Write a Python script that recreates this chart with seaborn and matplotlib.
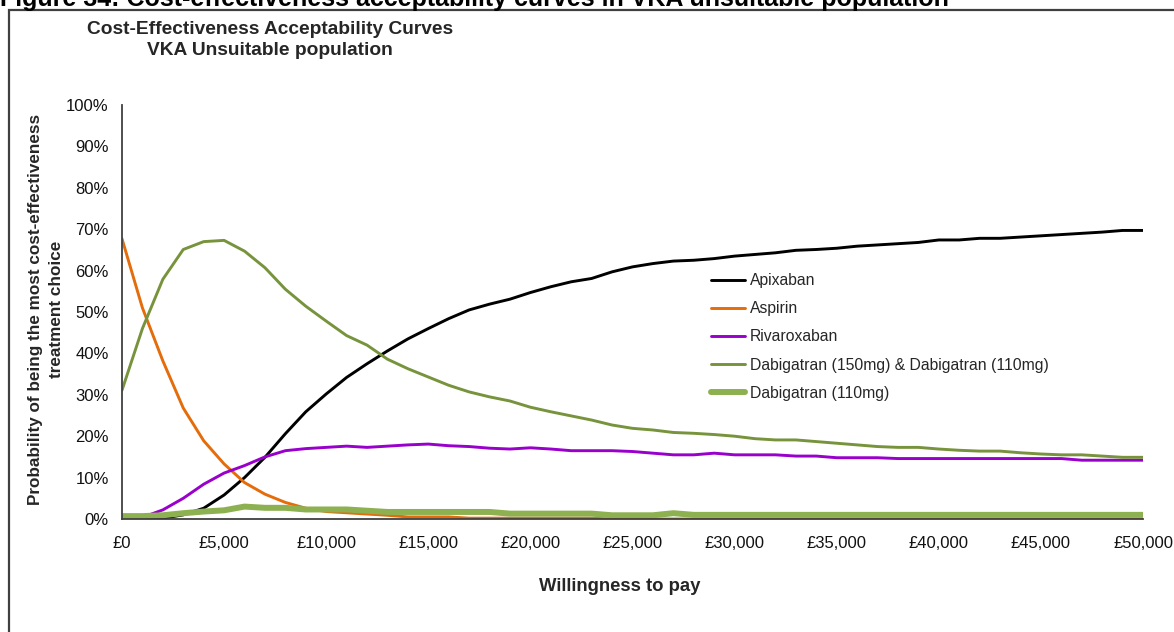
import matplotlib
matplotlib.use("Agg")
import matplotlib.pyplot as plt
from matplotlib.patches import Rectangle
from matplotlib.ticker import FuncFormatter, MultipleLocator
import pandas as pd
import seaborn as sns

# Willingness-to-pay thresholds (GBP)
wtp = list(range(0, 50001, 1000))

# Probability (%) of each strategy being the most cost-effective choice
apixaban = [0.0, 0.0, 0.2, 1.0, 2.6, 5.8, 10.0, 14.9, 20.6, 25.9,
            30.2, 34.2, 37.5, 40.6, 43.5, 46.0, 48.4, 50.5, 51.9, 53.1,
            54.7, 56.1, 57.3, 58.1, 59.7, 60.9, 61.7, 62.3, 62.5, 62.9,
            63.5, 63.9, 64.3, 64.9, 65.1, 65.4, 65.9, 66.2, 66.5, 66.8,
            67.4, 67.4, 67.8, 67.8, 68.1, 68.4, 68.7, 69.0, 69.3, 69.7,
            69.7]
aspirin = [67.7, 51.0, 38.2, 26.8, 18.9, 13.3, 8.8, 6.0, 4.0, 2.6,
           1.8, 1.5, 1.2, 0.9, 0.5, 0.5, 0.5, 0.2, 0.2, 0.2,
           0.2, 0.2, 0.2, 0.2, 0.0, 0.0, 0.0, 0.0, 0.0, 0.0,
           0.0, 0.0, 0.0, 0.0, 0.0, 0.0, 0.0, 0.0, 0.0, 0.0,
           0.0, 0.0, 0.0, 0.0, 0.0, 0.0, 0.0, 0.0, 0.0, 0.0,
           0.0]
rivaroxaban = [0.0, 0.4, 2.2, 5.0, 8.4, 11.1, 12.9, 15.0, 16.5, 17.0,
               17.3, 17.6, 17.3, 17.6, 17.9, 18.1, 17.7, 17.5, 17.1, 16.9,
               17.2, 16.9, 16.5, 16.5, 16.5, 16.3, 15.9, 15.5, 15.5, 15.9,
               15.5, 15.5, 15.5, 15.2, 15.2, 14.8, 14.8, 14.8, 14.6, 14.6,
               14.6, 14.6, 14.6, 14.6, 14.6, 14.6, 14.6, 14.2, 14.2, 14.2,
               14.2]
dabigatran_both = [31.1, 46.0, 57.9, 65.1, 67.0, 67.3, 64.7, 60.7, 55.5, 51.4,
                   47.8, 44.3, 42.0, 38.6, 36.3, 34.3, 32.3, 30.7, 29.5, 28.5,
                   27.0, 25.9, 24.9, 23.9, 22.7, 21.9, 21.5, 20.9, 20.7, 20.4,
                   20.0, 19.4, 19.1, 19.1, 18.7, 18.3, 17.9, 17.5, 17.3, 17.3,
                   16.9, 16.6, 16.4, 16.4, 16.0, 15.7, 15.5, 15.5, 15.2, 14.9,
                   14.9]
dabigatran_110 = [0.7, 0.7, 0.9, 1.4, 1.8, 2.1, 3.0, 2.7, 2.7, 2.3,
                  2.3, 2.3, 2.0, 1.7, 1.7, 1.7, 1.7, 1.7, 1.7, 1.3,
                  1.3, 1.3, 1.3, 1.3, 0.9, 0.9, 0.9, 1.4, 1.0, 1.0,
                  1.0, 1.0, 1.0, 1.0, 1.0, 1.0, 1.0, 1.0, 1.0, 1.0,
                  1.0, 1.0, 1.0, 1.0, 1.0, 1.0, 1.0, 1.0, 1.0, 1.0,
                  1.0]

labels = ["Apixaban", "Aspirin", "Rivaroxaban",
          "Dabigatran (150mg) & Dabigatran (110mg)", "Dabigatran (110mg)"]
series = [apixaban, aspirin, rivaroxaban, dabigatran_both, dabigatran_110]
colors = ["#000000", "#E46C0A", "#9900CC", "#77933C", "#8DB050"]
widths = [2.1, 2.1, 2.1, 2.1, 4.3]

sns.set_style("white")
plt.rcParams["font.family"] = ["Liberation Sans", "DejaVu Sans"]

fig = plt.figure(figsize=(11.74, 6.32), dpi=100)
W, H = 1174, 632

# Frame around the chart area
fig.patches.append(Rectangle((9 / W, -0.1), 1.2, (H - 10) / H + 0.1,
                             transform=fig.transFigure, fill=False,
                             edgecolor="#404040", linewidth=1.6))

# Caption above the chart frame
fig.text(0.0, 1 - 6 / H,
         "Figure 34: Cost-effectiveness acceptability curves in VKA unsuitable population",
         ha="left", va="baseline", fontsize=18, fontweight="bold", color="black")

# Chart title
fig.text(270 / W, 1 - 21.5 / H,
         "Cost-Effectiveness Acceptability Curves\nVKA Unsuitable population",
         ha="center", va="top", fontsize=13.8, fontweight="bold",
         linespacing=1.3, multialignment="center")

ax = fig.add_axes([122 / W, (H - 519) / H, 1021 / W, 414 / H])

for lab, vals, col, lw in zip(labels, series, colors, widths):
    df = pd.DataFrame({"wtp": wtp, "prob": [v / 100 for v in vals]})
    sns.lineplot(data=df, x="wtp", y="prob", ax=ax, color=col,
                 linewidth=lw, label=lab, solid_joinstyle="round")

ax.set_xlim(0, 50000)
ax.set_ylim(0, 1)
ax.xaxis.set_major_locator(MultipleLocator(5000))
ax.yaxis.set_major_locator(MultipleLocator(0.1))
ax.xaxis.set_major_formatter(FuncFormatter(lambda v, p: f"£{v:,.0f}"))
ax.yaxis.set_major_formatter(FuncFormatter(lambda v, p: f"{v * 100:.0f}%"))

for side in ("top", "right"):
    ax.spines[side].set_visible(False)
for side in ("left", "bottom"):
    ax.spines[side].set_color("#404040")
    ax.spines[side].set_linewidth(1.3)
ax.tick_params(axis="both", which="major", direction="out", length=5,
               width=1.2, color="#404040", labelsize=12, labelcolor="#111111")
ax.tick_params(axis="y", pad=4.5)
ax.tick_params(axis="x", pad=7.5)
ax.grid(False)

ax.set_xlabel("Willingness to pay", fontsize=13.3, fontweight="bold")
ax.xaxis.label.set_va("center")
ax.xaxis.set_label_coords(0.4878, -0.162)
ax.set_ylabel("Probability of being the most cost-effectiveness\ntreatment choice",
              fontsize=12.3, fontweight="bold", linespacing=1.5)
ax.yaxis.label.set_va("center")
ax.yaxis.label.set_ha("center")
ax.yaxis.set_label_coords(-0.0748, 0.507)

leg = ax.legend(loc="upper left", bbox_to_anchor=(711 / W, 1 - 273 / H),
                bbox_transform=fig.transFigure, frameon=False,
                fontsize=11.3, handlelength=2.15, handletextpad=0.35,
                labelspacing=0.84, borderaxespad=0, borderpad=0)

fig.savefig("out.png", dpi=100, facecolor="white")
